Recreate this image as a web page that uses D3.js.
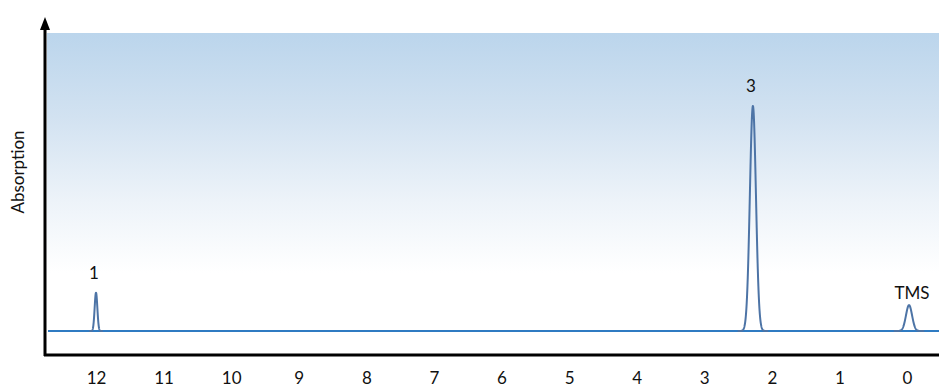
<!DOCTYPE html>
<html>
<head>
<meta charset="utf-8">
<script src="https://cdn.jsdelivr.net/npm/d3@7"></script>
<style>
  html, body { margin: 0; padding: 0; background: #ffffff; }
  svg { display: block; }
  text { font-family: Lato, "Open Sans", sans-serif; fill: #111; }
</style>
</head>
<body>
<svg id="chart" width="939" height="390"></svg>
<script>
// Chemical shift ticks (ppm), drawn right-to-left as usual for NMR
const tickValues = [12, 11, 10, 9, 8, 7, 6, 5, 4, 3, 2, 1, 0];

// Peaks: position (ppm), relative intensity, line width (ppm), label
const peakShifts  = [12.0, 2.28, -0.03];
const peakHeights = [17, 100, 11.5];
const peakWidths  = [0.020, 0.045, 0.045];
const peakLabels  = ["1", "3", "TMS"];

const W = 939, H = 390;
const svg = d3.select("#chart");

const x = d3.scaleLinear().domain([12, 0]).range([96, 907]);
const y = d3.scaleLinear().domain([0, 100]).range([331, 106]);

// Background band: soft blue fading to white
const defs = svg.append("defs");
const grad = defs.append("linearGradient")
  .attr("id", "bandGrad").attr("x1", 0).attr("y1", 0).attr("x2", 0).attr("y2", 1);
[[0, "#bbd5ec"], [0.35, "#d2e2f1"], [0.7, "#edf3f9"], [1, "#ffffff"]].forEach(([o, c]) =>
  grad.append("stop").attr("offset", o).attr("stop-color", c));

svg.append("rect")
  .attr("x", 47).attr("y", 33).attr("width", W - 47).attr("height", 240)
  .attr("fill", "url(#bandGrad)");

// Baseline of the spectrum
const xMin = x.invert(48), xMax = x.invert(W);
svg.append("line")
  .attr("x1", x(xMin)).attr("x2", x(xMax))
  .attr("y1", y(0)).attr("y2", y(0))
  .attr("stroke", "#2f7bc2").attr("stroke-width", 2);

// Peaks rendered as Gaussian line shapes around each shift
const line = d3.line().x(d => x(d[0])).y(d => y(d[1])).curve(d3.curveLinear);
const labelGap = [14, 14, 6];
peakShifts.forEach((c, i) => {
  const s = peakWidths[i], h = peakHeights[i];
  const pts = d3.range(-5 * s, 5 * s + 1e-9, s / 20).map(o =>
    [c + o, h * Math.exp(-0.5 * (o / s) * (o / s))]);
  svg.append("path")
    .attr("d", line(pts))
    .attr("fill", "none")
    .attr("stroke", "#4d74a6")
    .attr("stroke-width", 2)
    .attr("stroke-linejoin", "round");

  svg.append("text")
    .attr("x", x(c) + (i === 2 ? 3 : -2))
    .attr("y", y(h) - labelGap[i])
    .attr("text-anchor", "middle")
    .attr("font-size", 17)
    .text(peakLabels[i]);
});

// Axes
const xAxis = d3.axisBottom(x).tickValues(tickValues).tickSize(0).tickPadding(17)
  .tickFormat(d3.format("d"));
const gx = svg.append("g").attr("transform", "translate(0,355)").call(xAxis);
gx.select(".domain").remove();
gx.selectAll("text").attr("font-size", 17).attr("font-family", "Lato, sans-serif").attr("fill", "#111");

svg.append("line")
  .attr("x1", 44).attr("x2", W).attr("y1", 355).attr("y2", 355)
  .attr("stroke", "#000").attr("stroke-width", 3);
svg.append("line")
  .attr("x1", 45).attr("x2", 45).attr("y1", 356).attr("y2", 28)
  .attr("stroke", "#000").attr("stroke-width", 3);
svg.append("path")
  .attr("d", "M45,17 L40,30 L50,30 Z")
  .attr("fill", "#000");

svg.append("text")
  .attr("transform", "translate(24,172) rotate(-90)")
  .attr("text-anchor", "middle")
  .attr("font-size", 17)
  .text("Absorption");
</script>
</body>
</html>
